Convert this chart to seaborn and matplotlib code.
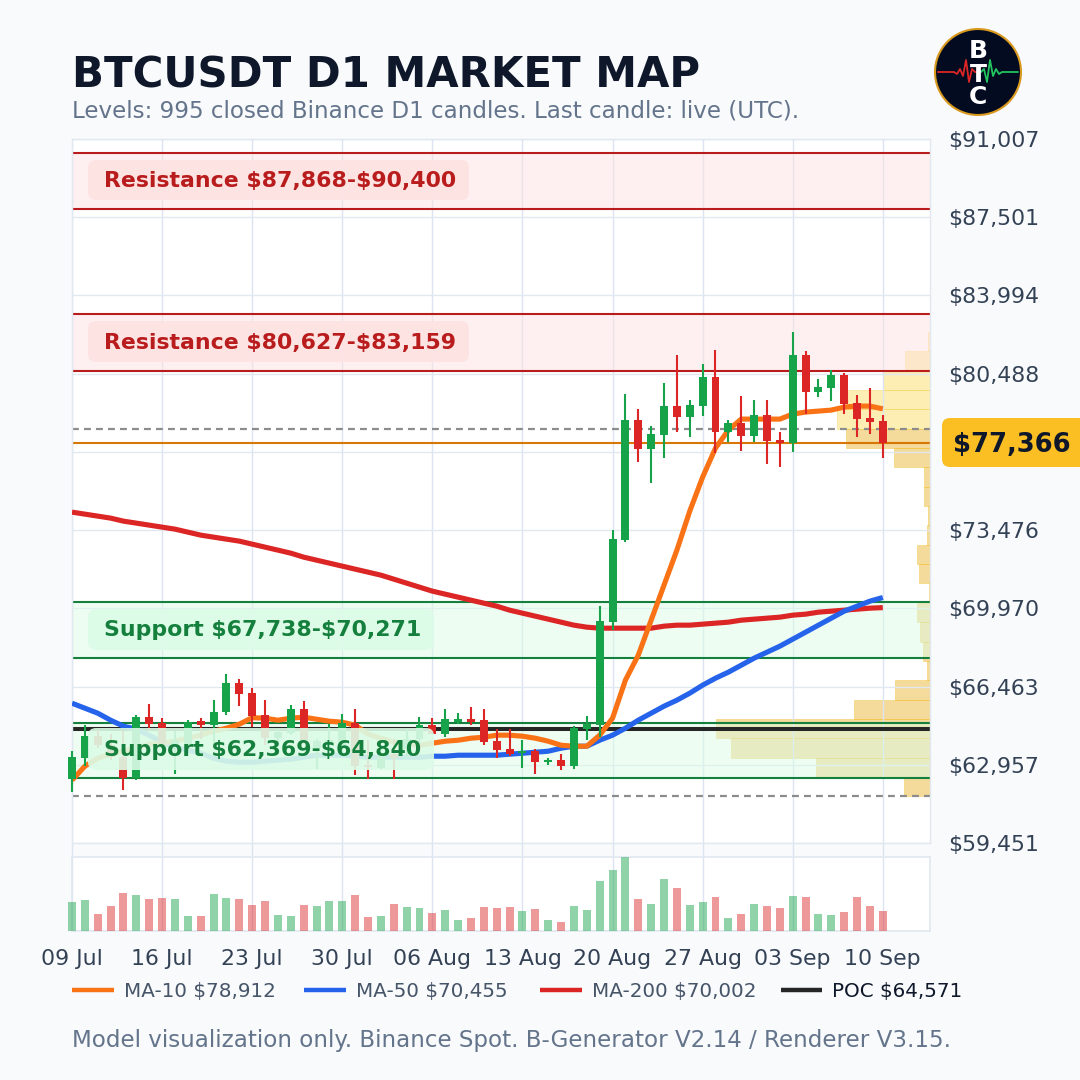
import numpy as np
import pandas as pd
import matplotlib
matplotlib.use("Agg")
import matplotlib.pyplot as plt
from matplotlib.lines import Line2D
from matplotlib.patches import FancyBboxPatch, Circle
from matplotlib.transforms import IdentityTransform
import seaborn as sns

opens = [62324,63251,64237,63833,63310,62369,65089,64820,63819,63908,64910,64730,65313,66614,66165,65179,
         64147,64387,65448,63729,63908,63759,64820,62937,62832,63460,63684,64103,64730,64327,64865,64999,
         64955,64013,63654,63475,63564,63071,63161,62892,64551,64731,69350,73026,78407,77107,77735,79035,
         78542,79035,80335,77869,78273,77690,78631,77510,77376,81322,79663,79842,80425,79169,78497,78362]
highs = [63564,64730,64536,64327,64476,65179,65672,65044,64476,64955,65044,65851,67017,66793,66389,65851,
         64581,65627,65807,64132,64805,65224,65448,64058,63460,64132,64581,65089,65044,65448,65268,65537,
         65448,64551,64551,64058,63654,63251,63430,64685,65134,70067,73475,79573,78900,78138,80066,81322,
         79304,80918,81546,78407,79483,79304,79304,77869,82353,81501,80246,80649,80515,79528,79842,78631]
lows = [61726,62892,63729,63161,61816,62264,64506,63729,62533,63833,64132,63759,65179,65582,64656,63833,
        63908,64282,63908,62787,63759,63460,62488,62309,62787,62309,63310,63908,64327,64192,64775,64730,
        63833,63251,63340,62802,62533,62937,62712,62757,64058,64193,68991,72937,76524,75582,76703,77869,
        77645,78587,76927,77421,77017,77421,76434,76300,76972,78676,79439,79259,78676,77645,77779,76703]
closes = [63295,64237,63833,63310,62369,65089,64775,63833,64058,64895,64730,65313,66614,66120,65134,64147,
          64431,65448,64058,64013,64058,64820,62892,62847,63310,63280,64132,64730,64327,64999,64999,64865,
          63968,63609,63430,63564,63071,63161,62892,64596,64775,69394,73071,78407,77107,77779,79035,78542,
          79080,80335,77869,78273,77690,78631,77466,77366,81322,79663,79887,80425,79125,78452,78318,77366]
volumes = [86,92,50,74,113,107,95,98,95,44,44,110,98,95,77,89,47,44,77,74,89,89,107,41,44,80,71,68,53,62,32,38,
           71,68,71,59,65,32,26,74,62,149,182,224,95,80,155,128,77,86,101,38,50,80,74,68,104,101,50,47,56,101,74,59]
ma10 = [62265,62893,63251,63431,63565,63700,63879,63924,64014,64148,64283,64462,64596,64776,65067,65045,
        64955,65045,65090,65000,64910,64866,64731,64327,64148,63969,63879,63834,63924,64014,64058,64148,
        64193,64283,64283,64238,64148,64014,63834,63789,63789,64283,65045,66749,67870,69439,71009,72578,
        74327,75851,77152,77959,78452,78452,78452,78452,78676,78766,78811,78856,78990,79035,79035,78912]
ma50 = [65717,65493,65269,64955,64686,64552,64283,63969,63745,63610,63475,63251,63117,63072,63072,63117,
        63162,63206,63296,63386,63386,63386,63341,63296,63296,63296,63296,63296,63341,63341,63386,63386,
        63386,63386,63431,63475,63520,63565,63700,63789,63789,64058,64283,64596,64955,65269,65583,65852,
        66166,66525,66838,67108,67421,67735,68004,68273,68587,68901,69215,69529,69843,70067,70291,70455]
ma200 = [74282,74192,74103,74013,73878,73789,73699,73609,73520,73385,73251,73161,73071,72982,72847,72713,
         72578,72443,72264,72130,71995,71861,71726,71592,71457,71278,71098,70919,70740,70605,70471,70336,
         70201,70067,69888,69753,69619,69484,69350,69215,69125,69080,69080,69080,69080,69080,69170,69215,
         69215,69260,69305,69350,69439,69484,69529,69574,69663,69708,69798,69843,69888,69932,69977,70002]

week_labels = ["09 Jul","16 Jul","23 Jul","30 Jul","06 Aug","13 Aug","20 Aug","27 Aug","03 Sep","10 Sep"]
week_days = [0,7,14,21,28,35,42,49,56,63]
price_ticks = [91007,87501,83994,80488,76982,73476,69970,66463,62957,59451]
hidden_tick = 76982

resistance_zones = [(87868,90400),(80627,83159)]
support_zones = [(67738,70271),(62369,64840)]
last_price = 77366
poc_price = 64571
range_levels = [78004,61547]
profile_edges = (61547,82353)
profile_top_down = [2,25,47,82,93,84,36,6,6,2,3,13,11,1,13,10,7,3,35,76,214,199,114,26]
legend_labels = [r"MA-10 \$78,912",r"MA-50 \$70,455",r"MA-200 \$70,002",r"POC \$64,571"]

W = 1080
sns.set_theme(style="white", rc={"figure.facecolor":"#f8fafc"})
plt.rcParams["font.family"] = ["DejaVu Sans"]
GREEN, RED = "#16a34a", "#dc2626"
GRID_H, GRID_V = "#e2e8f0", "#dbe4f0"
XMAX = 858/12.87
days = np.arange(len(closes))

fig = plt.figure(figsize=(10.8,10.8), dpi=100, facecolor="#f8fafc")
def rect(x0,y0,x1,y1):
    return [x0/W, 1-y1/W, (x1-x0)/W, (y1-y0)/W]
main_rect = rect(72,139,930,843)

# volume profile underneath everything
ax_prof = fig.add_axes(main_rect, zorder=0, facecolor="white")
ax_prof.set_xlim(858,0); ax_prof.set_ylim(price_ticks[-1],price_ticks[0])
edges = np.linspace(profile_edges[1],profile_edges[0],len(profile_top_down)+1)
for k,w in enumerate(profile_top_down):
    light = k<5
    ax_prof.barh((edges[k]+edges[k+1])/2, w, height=edges[k]-edges[k+1], align="center",
                 color="#facc15" if light else "#e7ad21", alpha=.32 if light else .45,
                 edgecolor="#f2b705", linewidth=.5)
ax_prof.set_xticks([]); ax_prof.set_yticks([])
for s in ax_prof.spines.values(): s.set_visible(False)

ax = fig.add_axes(main_rect, zorder=1)
ax.patch.set_visible(False)
ax.set_xlim(0,XMAX); ax.set_ylim(price_ticks[-1],price_ticks[0])
ax.set_axisbelow(True)
ax.set_yticks(price_ticks)
ax.set_yticklabels(["" if v==hidden_tick else rf"\${v:,.0f}" for v in price_ticks])
ax.set_xticks(week_days); ax.set_xticklabels([])
ax.yaxis.tick_right()
ax.tick_params(axis="y", length=0, pad=13, labelsize=15.8, labelcolor="#334155")
ax.tick_params(axis="x", length=0)
ax.grid(True, axis="y", color=GRID_H, lw=1.0)
ax.grid(True, axis="x", color=GRID_V, lw=1.0)
for s in ax.spines.values(): s.set_color(GRID_H); s.set_linewidth(1)

for lo,hi in resistance_zones:
    ax.axhspan(lo,hi,color="#fee2e2",alpha=.5,lw=0,zorder=1)
    for v in (lo,hi): ax.axhline(v,color="#b91c1c",lw=1.5,zorder=2)
for lo,hi in support_zones:
    ax.axhspan(lo,hi,color="#dcfce7",alpha=.5,lw=0,zorder=1)
    for v in (lo,hi): ax.axhline(v,color="#15803d",lw=1.5,zorder=2)
for v in range_levels:
    ax.axhline(v,color="#8c8c8c",lw=1.6,ls=(0,(3.1,2.3)),zorder=2)
ax.axhline(last_price,color="#d97706",lw=1.5,zorder=2)
ax.axhline(poc_price,color="#262626",lw=2.9,zorder=2.2)

df_ma = pd.DataFrame({"day":days,"MA-10":ma10,"MA-50":ma50,"MA-200":ma200})
for name,col,z in (("MA-200","#dc2626",3.0),("MA-50","#2563eb",3.1),("MA-10","#f97316",3.2)):
    sns.lineplot(data=df_ma,x="day",y=name,color=col,lw=3.7,ax=ax,zorder=z,errorbar=None,
                 solid_capstyle="butt",legend=False)
ax.set_xlabel(""); ax.set_ylabel("")
ax.set_xlim(0,XMAX); ax.set_ylim(price_ticks[-1],price_ticks[0])

for d,o,h,l,c in zip(days,opens,highs,lows,closes):
    col = GREEN if c>=o else RED
    ax.vlines(d,l,h,color=col,lw=1.5,zorder=4,clip_on=False)
    ax.bar(d,abs(c-o),bottom=min(o,c),width=.62,color=col,lw=0,zorder=4.1,clip_on=False)

# zone label chips
chips = [(r"Resistance \$87,868-\$90,400",88,469,160,200,"#fee2e2","#b91c1c"),
         (r"Resistance \$80,627-\$83,159",88,469,321,362,"#fee2e2","#b91c1c"),
         (r"Support \$67,738-\$70,271",88,434,609,650,"#dcfce7","#15803d"),
         (r"Support \$62,369-\$64,840",88,434,728,770,"#dcfce7","#15803d")]
for txt,x0,x1,y0,y1,bg,fg in chips:
    ax.add_patch(FancyBboxPatch((x0,W-y1),x1-x0,y1-y0,boxstyle="round,pad=0,rounding_size=8",
                 transform=IdentityTransform(),fc=bg,ec="none",alpha=.9,zorder=5,clip_on=False))
    fig.text(104/W,1-((y0+y1)/2-1)/W,txt,color=fg,fontsize=15.85,fontweight="bold",va="center_baseline",ha="left",zorder=6)

# volume
ax_vol = fig.add_axes(rect(72,856.5,930,930.5), facecolor="white")
df_vol = pd.DataFrame({"day":days,"volume":volumes,
                       "dir":["up" if c>=o else "down" for o,c in zip(opens,closes)]})
sns.barplot(data=df_vol,x="day",y="volume",hue="dir",hue_order=["up","down"],palette={"up":GREEN,"down":RED},
            dodge=False,native_scale=True,width=.62,alpha=.47,saturation=1,legend=False,ax=ax_vol,zorder=3)
for p in ax_vol.patches: p.set_clip_on(False); p.set_linewidth(0)
ax_vol.set_xlim(0,XMAX); ax_vol.set_ylim(0,max(volumes))
ax_vol.set_xlabel(""); ax_vol.set_ylabel(""); ax_vol.set_yticks([])
ax_vol.set_xticks(week_days); ax_vol.set_xticklabels(week_labels)
ax_vol.tick_params(axis="x",length=0,pad=13,labelsize=15.8,labelcolor="#334155")
ax_vol.vlines(week_days,0,1.18,transform=ax_vol.get_xaxis_transform(),color=GRID_V,lw=1.0,clip_on=False,zorder=1)
for s in ax_vol.spines.values(): s.set_color(GRID_H); s.set_linewidth(1.2); s.set_visible(True)

# title block
fig.text(72/W,1-70.5/W,"BTCUSDT D1 MARKET MAP",fontsize=30.15,fontweight="bold",color="#0f172a",va="center_baseline")
fig.text(72/W,1-109/W,"Levels: 995 closed Binance D1 candles. Last candle: live (UTC).",fontsize=16.58,color="#64748b",va="center_baseline")
fig.text(72/W,1-1038/W,"Model visualization only. Binance Spot. B-Generator V2.14 / Renderer V3.15.",fontsize=16.56,color="#64748b",va="center_baseline")

# legend
leg_x = [(72,114,124),(304,346,356),(540,582,592),(781,822,832)]
leg_c = ["#f97316","#2563eb","#dc2626","#262626"]
leg_t = ["#475569","#475569","#475569","#0f172a"]
for (x0,x1,xt),c,tc,lab in zip(leg_x,leg_c,leg_t,legend_labels):
    fig.add_artist(Line2D([x0/W,x1/W],[1-990/W]*2,color=c,lw=3.2,solid_capstyle="butt"))
    fig.text(xt/W,1-990/W,lab,fontsize=14.3,color=tc,va="center_baseline")

# price badge
fig.add_artist(FancyBboxPatch((942,W-467),150,49,boxstyle="round,pad=0,rounding_size=8",
               transform=IdentityTransform(),fc="#fbbf24",ec="none"))
fig.text(953/W,1-442/W,rf"\${last_price:,.0f}",fontsize=18.6,fontweight="bold",color="#0f172a",va="center_baseline")

# logo
lg = fig.add_axes(rect(930,24,1026,120))
lg.set_xlim(-48,48); lg.set_ylim(-48,48); lg.axis("off")
lg.add_patch(Circle((0,0),43,fc="#020b1f",ec="#d99a1f",lw=1.5))
pulse_x = [-40,-24,-21,-18,-15,-12,-9,-6,-3,-1]
pulse_y = [0,0,-2,3,-4,12,-10,3,0,0]
lg.plot(pulse_x,pulse_y,color="#dc2626",lw=1.3)
lg.plot([-p for p in pulse_x[::-1]],pulse_y[::-1],color="#22c55e",lw=1.3)
for ch,yy in zip("BTC",(24,0,-23)):
    lg.text(0,yy,ch,color="white",fontsize=18,fontweight="bold",ha="center",va="center_baseline")

fig.savefig("out.png",dpi=100,facecolor=fig.get_facecolor())
